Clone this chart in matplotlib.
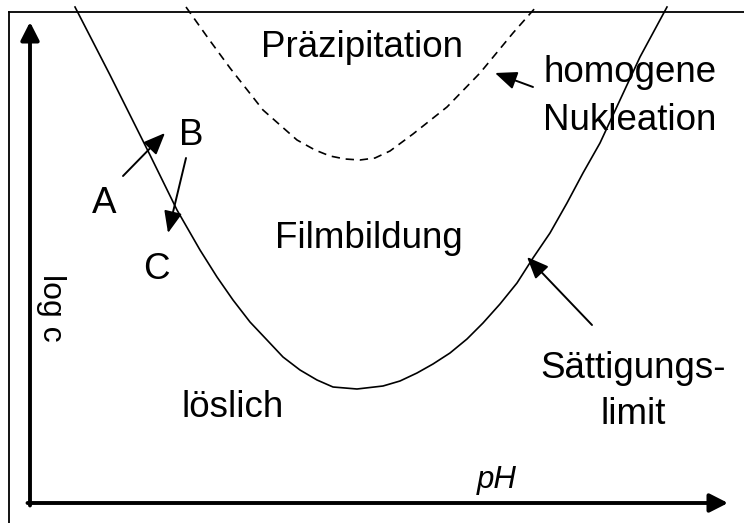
import numpy as np
import matplotlib.pyplot as plt

plt.rcParams['font.family'] = ['Liberation Sans', 'DejaVu Sans']

# Saettigungslimit (solid curve)
sat_ph = [0.90, 1.24, 1.60, 2.00, 2.40, 2.94, 3.40, 3.74, 4.06, 4.40, 4.74,
          5.06, 5.40, 5.74, 6.06, 6.54, 7.06, 7.40, 7.74, 8.06, 8.40, 8.74,
          9.06, 9.40, 9.74, 10.06, 10.40, 10.74, 11.06, 11.40, 11.80, 12.20, 12.74]
sat_logc = [9.92, 9.26, 8.56, 7.76, 6.96, 5.86, 5.06, 4.52, 4.06, 3.62, 3.26,
            2.92, 2.66, 2.46, 2.32, 2.28, 2.34, 2.44, 2.60, 2.78, 3.00, 3.28,
            3.60, 3.98, 4.40, 4.90, 5.40, 6.00, 6.60, 7.20, 8.06, 8.92, 9.92]

# homogene Nukleation (dashed curve)
nuc_ph = [3.12, 3.56, 4.00, 4.66, 5.34, 5.70, 6.00, 6.30, 6.60, 6.90, 7.20,
          7.66, 8.34, 9.00, 9.66, 10.12]
nuc_logc = [9.92, 9.30, 8.70, 7.86, 7.26, 7.06, 6.94, 6.88, 6.86, 6.90, 7.04,
            7.38, 7.92, 8.60, 9.40, 9.92]

region_labels = ['Präzipitation', 'Filmbildung', 'löslich']
region_pos = [(6.64, 8.92), (6.78, 5.10), (4.06, 1.72)]

point_labels = ['A', 'B', 'C']
point_pos = [(1.48, 5.80), (3.22, 7.16), (2.52, 4.48)]

FS = 26.5

fig = plt.figure(figsize=(7.44, 5.23), dpi=100)
ax = fig.add_axes([0, 0, 1, 1])
ax.set_xlim(-0.6, 14.28)
ax.set_ylim(-0.4, 10.06)
ax.axis('off')

# outer frame (only top and left edges visible)
ax.plot([-0.42, 14.28], [9.82, 9.82], color='black', lw=1.3)
ax.plot([-0.42, -0.42], [-0.4, 9.82], color='black', lw=1.3)

# coordinate axes with arrow heads
axis_arrow = dict(arrowstyle='-|>,head_length=0.55,head_width=0.28',
                  mutation_scale=20, lw=2.8, color='black',
                  shrinkA=0, shrinkB=0)
ax.annotate('', xy=(0, 9.62), xytext=(0, -0.05), arrowprops=axis_arrow)
ax.annotate('', xy=(13.96, 0), xytext=(-0.05, 0), arrowprops=axis_arrow)

# curves
ax.plot(sat_ph, sat_logc, color='black', lw=1.2, solid_joinstyle='round')
ax.plot(nuc_ph, nuc_logc, color='black', lw=1.2, linestyle=(0, (5, 3.5)))

for lab, (x, y) in zip(region_labels, region_pos):
    ax.text(x, y, lab, fontsize=FS, ha='center', va='baseline')
for lab, (x, y) in zip(point_labels, point_pos):
    ax.text(x, y, lab, fontsize=FS, ha='center', va='baseline')

ax.text(12.0, 8.42, 'homogene', fontsize=FS, ha='center', va='baseline')
ax.text(12.0, 7.46, 'Nukleation', fontsize=FS, ha='center', va='baseline')
ax.text(12.06, 2.50, 'Sättigungs-', fontsize=FS, ha='center', va='baseline')
ax.text(12.06, 1.58, 'limit', fontsize=FS, ha='center', va='baseline')

ax.text(9.34, 0.30, 'pH', fontsize=22.5, style='italic', ha='center', va='baseline')
ax.text(0.42, 3.90, 'log c', fontsize=23, rotation=-90, ha='center', va='center')

# pointer arrows
ptr = dict(arrowstyle='-|>,head_length=0.6,head_width=0.25',
           mutation_scale=22, lw=1.4, color='black', shrinkA=0, shrinkB=0)
ax.annotate('', xy=(2.70, 7.40), xytext=(1.86, 6.54), arrowprops=ptr)
ax.annotate('', xy=(2.76, 5.40), xytext=(3.12, 6.90), arrowprops=ptr)
ax.annotate('', xy=(9.30, 8.60), xytext=(10.06, 8.32), arrowprops=ptr)
ax.annotate('', xy=(9.94, 4.92), xytext=(11.24, 3.56), arrowprops=ptr)

fig.savefig('out.png', dpi=100)
